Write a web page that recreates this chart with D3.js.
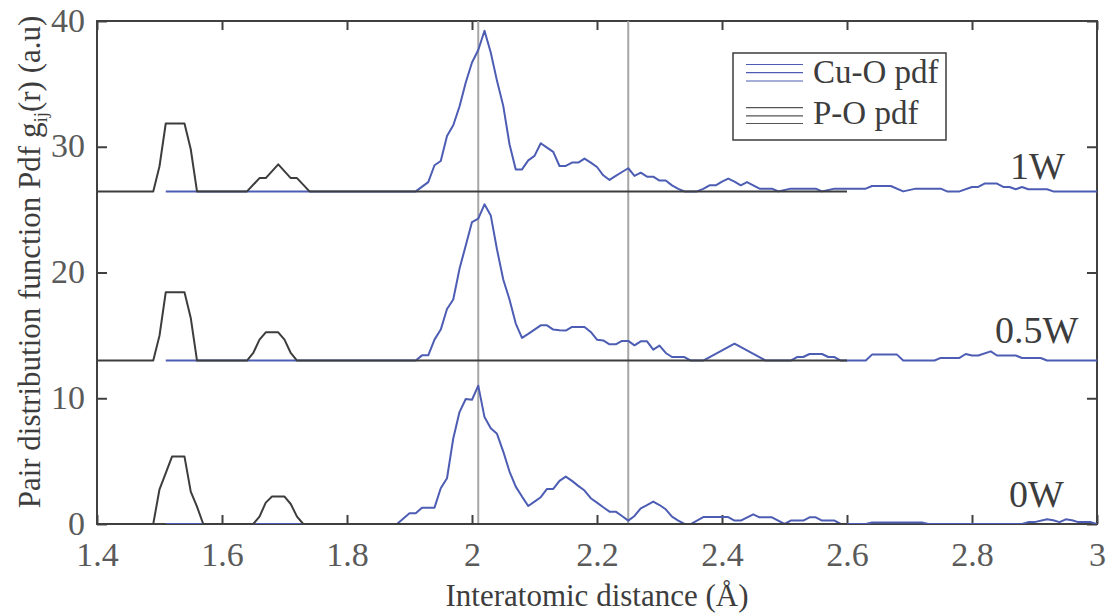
<!DOCTYPE html>
<html>
<head>
<meta charset="utf-8">
<script src="https://cdn.jsdelivr.net/npm/d3@7"></script>
<style>
  html, body { margin: 0; padding: 0; background: #ffffff; }
  svg { display: block; }
  text { font-family: "Liberation Serif", "Times New Roman", serif; }
</style>
</head>
<body>
<svg id="chart" width="1106" height="614"></svg>
<script>
// ---------------- DATA ----------------
const xTickValues = [1.4, 1.6, 1.8, 2.0, 2.2, 2.4, 2.6, 2.8, 3.0];
const yTickValues = [0, 10, 20, 30, 40];
const panelLabels = ["0W", "0.5W", "1W"];
const panelOffsets = [0, 13, 26.45];
const referenceLines = [2.01, 2.25];
const legendLabels = ["Cu-O pdf", "P-O pdf"];

// P-O pdf, [r (Å), g(r)] for each power
const pO_0W = [[1.40,0],[1.49,0],[1.50,2.76],[1.51,4.05],[1.52,5.36],[1.54,5.36],[1.55,2.58],[1.56,1.38],[1.57,0],
  [1.65,0],[1.66,0.59],[1.67,1.7],[1.68,2.18],[1.70,2.18],[1.71,1.59],[1.72,0.59],[1.73,0],[2.60,0]];
const pO_05W = [[1.40,0],[1.49,0],[1.50,1.98],[1.51,5.43],[1.54,5.43],[1.55,3.39],[1.56,0],
  [1.64,0],[1.65,0.6],[1.66,1.66],[1.67,2.24],[1.69,2.24],[1.70,1.66],[1.71,0.6],[1.72,0],[2.60,0]];
const pO_1W = [[1.40,0],[1.49,0],[1.50,2.0],[1.51,5.4],[1.54,5.4],[1.55,3.35],[1.56,0],
  [1.64,0],[1.66,1.06],[1.67,1.06],[1.69,2.15],[1.71,1.06],[1.72,1.06],[1.74,0],[2.60,0]];

// Cu-O pdf, [r (Å), g(r)] for each power
const cuO_0W = [[1.51,0],[1.88,0],[1.90,0.85],[1.91,0.85],[1.92,1.3],[1.94,1.3],[1.95,2.84],[1.96,3.64],[1.97,6.8],
  [1.98,8.9],[1.99,9.94],[2.00,9.88],[2.01,11.0],[2.02,8.5],[2.03,7.62],[2.04,7.17],[2.05,5.76],[2.06,4.17],
  [2.07,2.97],[2.08,2.18],[2.09,1.43],[2.10,1.78],[2.11,2.13],[2.12,2.79],[2.13,2.79],[2.14,3.43],[2.15,3.77],
  [2.16,3.43],[2.17,3.03],[2.18,2.66],[2.19,2.05],[2.20,1.7],[2.21,1.33],[2.22,0.98],[2.23,0.98],[2.24,0.64],
  [2.25,0.27],[2.26,0.64],[2.27,1.25],[2.28,1.51],[2.29,1.78],[2.30,1.51],[2.31,1.17],[2.32,0.59],[2.33,0.27],
  [2.34,0],[2.35,0],[2.37,0.55],[2.41,0.55],[2.42,0.27],[2.43,0.27],[2.45,0.77],[2.46,0.53],[2.48,0.53],[2.50,0],
  [2.51,0.27],[2.53,0.27],[2.54,0.53],[2.55,0.53],[2.56,0.27],[2.58,0.27],[2.59,0],[2.63,0],[2.64,0.12],[2.72,0.12],
  [2.73,0],[2.88,0],[2.89,0.15],[2.90,0.15],[2.92,0.37],[2.93,0.3],[2.94,0.15],[2.95,0.37],[2.96,0.3],[2.97,0.15],
  [2.99,0.15],[3.00,0]];
const cuO_05W = [[1.51,0],[1.91,0],[1.92,0.41],[1.93,0.41],[1.94,1.66],[1.95,2.46],[1.96,4.1],[1.97,4.85],[1.98,7.29],
  [1.99,9.15],[2.00,11.01],[2.01,11.28],[2.02,12.42],[2.03,11.54],[2.04,8.83],[2.05,6.44],[2.06,4.85],[2.07,2.94],
  [2.08,1.8],[2.09,2.12],[2.10,2.46],[2.11,2.8],[2.12,2.8],[2.13,2.46],[2.14,2.4],[2.15,2.38],[2.16,2.67],[2.17,2.67],
  [2.18,2.67],[2.19,2.27],[2.20,1.66],[2.21,1.6],[2.22,1.29],[2.23,1.29],[2.24,1.56],[2.25,1.56],[2.26,1.21],
  [2.27,1.53],[2.28,1.53],[2.29,0.87],[2.30,1.19],[2.31,0.6],[2.32,0.28],[2.34,0.28],[2.35,0],[2.37,0],[2.42,1.34],
  [2.47,0],[2.51,0],[2.52,0.28],[2.53,0.28],[2.54,0.52],[2.56,0.52],[2.57,0.28],[2.58,0.28],[2.59,0],[2.63,0],
  [2.64,0.47],[2.68,0.47],[2.69,0],[2.74,0],[2.75,0.21],[2.78,0.21],[2.79,0.52],[2.80,0.4],[2.81,0.4],[2.83,0.73],
  [2.84,0.4],[2.87,0.4],[2.88,0.2],[2.91,0.2],[2.92,0],[3.00,0]];
const cuO_1W = [[1.51,0],[1.91,0],[1.93,0.74],[1.94,2.08],[1.95,2.42],[1.96,4.41],[1.97,5.26],[1.98,6.75],[1.99,8.66],
  [2.00,10.25],[2.01,11.24],[2.02,12.78],[2.03,11.05],[2.04,8.79],[2.05,6.8],[2.06,3.75],[2.07,1.75],[2.08,1.75],
  [2.09,2.47],[2.10,2.82],[2.11,3.83],[2.12,3.48],[2.13,3.14],[2.14,2.02],[2.15,2.02],[2.16,2.29],[2.17,2.29],
  [2.18,2.61],[2.19,2.29],[2.20,1.94],[2.21,1.28],[2.22,0.91],[2.23,1.23],[2.24,1.54],[2.25,1.84],[2.26,1.23],
  [2.27,1.49],[2.28,1.17],[2.29,1.17],[2.30,0.86],[2.31,0.86],[2.32,0.48],[2.33,0.2],[2.34,0],[2.36,0],[2.37,0.2],
  [2.38,0.48],[2.39,0.48],[2.40,0.78],[2.41,1.02],[2.42,0.78],[2.43,0.48],[2.44,0.74],[2.46,0.22],[2.48,0.22],
  [2.49,0],[2.51,0.22],[2.55,0.22],[2.56,0],[2.58,0.22],[2.63,0.22],[2.64,0.43],[2.67,0.43],[2.69,0],[2.71,0.22],
  [2.75,0.22],[2.76,0],[2.78,0],[2.80,0.35],[2.81,0.35],[2.82,0.62],[2.84,0.62],[2.85,0.35],[2.86,0.35],[2.87,0.17],
  [2.88,0.35],[2.89,0.17],[2.92,0.17],[2.93,0],[3.00,0]];

const cuOSeries = [cuO_0W, cuO_05W, cuO_1W];
const pOSeries = [pO_0W, pO_05W, pO_1W];

// ---------------- LAYOUT / STYLE ----------------
const plot = { left: 97, right: 1097, top: 21, bottom: 524 };
const serif = '"Liberation Serif", "Times New Roman", serif';
const blue = "#4d5db3";
const dark = "#3d3d3d";
const axisColor = "#404040";
const tickTextColor = "#5a5a5a";

const svg = d3.select("#chart");

const x = d3.scaleLinear().domain([1.4, 3.0]).range([plot.left, plot.right]);
const y = d3.scaleLinear().domain([0, 40]).range([plot.bottom, plot.top]);

svg.append("defs").append("clipPath").attr("id", "clip")
  .append("rect").attr("x", plot.left).attr("y", plot.top)
  .attr("width", plot.right - plot.left).attr("height", plot.bottom - plot.top);

// frame
svg.append("rect")
  .attr("x", plot.left).attr("y", plot.top)
  .attr("width", plot.right - plot.left).attr("height", plot.bottom - plot.top)
  .attr("fill", "none").attr("stroke", axisColor).attr("stroke-width", 2);

// reference vertical lines
svg.append("g").selectAll("line").data(referenceLines).join("line")
  .attr("x1", d => x(d)).attr("x2", d => x(d))
  .attr("y1", plot.top).attr("y2", plot.bottom)
  .attr("stroke", "#a6a6a6").attr("stroke-width", 2);

// axes
const fmt = d => String(+d.toFixed(1));
const gx = svg.append("g").attr("transform", `translate(0,${plot.bottom})`)
  .call(d3.axisBottom(x).tickValues(xTickValues).tickFormat(fmt).tickSizeInner(-9).tickSizeOuter(0).tickPadding(18));
const gxt = svg.append("g").attr("transform", `translate(0,${plot.top})`)
  .call(d3.axisTop(x).tickValues(xTickValues).tickFormat("").tickSizeInner(-9).tickSizeOuter(0));
const gy = svg.append("g").attr("transform", `translate(${plot.left},0)`)
  .call(d3.axisLeft(y).tickValues(yTickValues).tickSizeInner(-10).tickSizeOuter(0).tickPadding(12));
const gyr = svg.append("g").attr("transform", `translate(${plot.right},0)`)
  .call(d3.axisRight(y).tickValues(yTickValues).tickFormat("").tickSizeInner(-10).tickSizeOuter(0));

[gx, gxt, gy, gyr].forEach(g => {
  g.attr("font-family", serif);
  g.select(".domain").remove();
  g.selectAll(".tick line").attr("stroke", axisColor).attr("stroke-width", 2);
});
[gx, gy].forEach(g => {
  g.selectAll(".tick text")
    .attr("fill", tickTextColor)
    .style("font-family", serif)
    .style("font-size", "34px");
});
gy.selectAll(".tick text").attr("dy", "0.30em");

// curves
const line = offset => d3.line().x(d => x(d[0])).y(d => y(d[1] + offset));
const curves = svg.append("g").attr("clip-path", "url(#clip)");

cuOSeries.forEach((s, i) => {
  curves.append("path").datum(s)
    .attr("d", line(panelOffsets[i]))
    .attr("fill", "none").attr("stroke", blue).attr("stroke-width", 2)
    .attr("stroke-linejoin", "round");
});
pOSeries.forEach((s, i) => {
  curves.append("path").datum(s)
    .attr("d", line(panelOffsets[i]))
    .attr("fill", "none").attr("stroke", dark).attr("stroke-width", 2)
    .attr("stroke-linejoin", "round");
});

// panel labels
const panelLabelPos = [[1009, 507], [995, 343], [1010, 179]];
svg.append("g").selectAll("text").data(panelLabels).join("text")
  .attr("x", (d, i) => panelLabelPos[i][0]).attr("y", (d, i) => panelLabelPos[i][1])
  .attr("fill", dark).style("font-family", serif).style("font-size", "38px").text(d => d);

// legend
const lg = svg.append("g");
lg.append("rect").attr("x", 733).attr("y", 53).attr("width", 213).attr("height", 87)
  .attr("fill", "#ffffff").attr("stroke", dark).attr("stroke-width", 1.5);
const legendColors = [blue, "#555555"];
const legendRows = [[64.5, 72.7, 81], [107.7, 115.8, 123.5]];
legendLabels.forEach((lab, i) => {
  legendRows[i].forEach(yy => {
    lg.append("line").attr("x1", 746).attr("x2", 803).attr("y1", yy).attr("y2", yy)
      .attr("stroke", legendColors[i]).attr("stroke-width", 1.2);
  });
  lg.append("text").attr("x", 813).attr("y", i === 0 ? 83 : 124)
    .attr("fill", dark).style("font-family", serif).style("font-size", "33px").text(lab);
});

// axis titles
svg.append("text").attr("x", 597).attr("y", 606).attr("text-anchor", "middle")
  .attr("fill", dark).style("font-family", serif).style("font-size", "31px").text("Interatomic distance (Å)");

const yl = svg.append("text").attr("transform", "translate(40,262) rotate(-90)")
  .attr("text-anchor", "middle").attr("fill", dark).style("font-family", serif).style("font-size", "31px");
yl.append("tspan").text("Pair distribution function Pdf g");
yl.append("tspan").attr("dy", 7).style("font-size", "19px").text("ij");
yl.append("tspan").attr("dy", -7).text("(r) (a.u)");
</script>
</body>
</html>
